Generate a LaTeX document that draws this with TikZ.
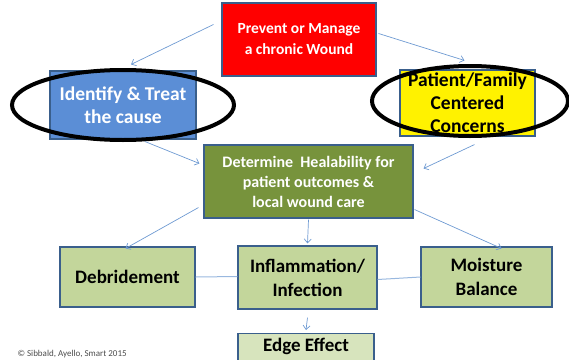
\documentclass[tikz,border=0pt]{standalone}
\usepackage{fontspec}
\setmainfont{Carlito}
\usetikzlibrary{arrows.meta}
\definecolor{boxline}{HTML}{3A5F8C}
\definecolor{flowblue}{HTML}{6E9AD2}
\definecolor{causeblue}{HTML}{5B8ED6}
\definecolor{healgreen}{HTML}{77933C}
\definecolor{stepgreen}{HTML}{C3D69B}
\definecolor{edgegreen}{HTML}{D7E4BD}
\tikzset{
  box/.style={draw=boxline, line width=1.1pt, align=center, inner sep=0pt},
  flow/.style={-{Straight Barb[length=4pt,width=7pt]}, draw=flowblue, line width=0.7pt},
  link/.style={draw=flowblue!70, line width=1pt},
  ring/.style={draw=black, line width=4pt}
}
\begin{document}
\begin{tikzpicture}[x=1pt,y=-1pt]
  \useasboundingbox (0,0) rectangle (569,359);
  % top
  \node[box, fill=red, text=white, minimum width=154pt, minimum height=73pt,
    font=\bfseries\fontsize{15.5}{21}\selectfont] (wound) at (299,39.5) {Prevent or Manage\\a chronic Wound};
  \node[box, fill=causeblue, text=white, minimum width=146pt, minimum height=68pt,
    font=\bfseries\fontsize{19.5}{23}\selectfont] (cause) at (123,105) {Identify \& Treat\\the cause};
  \node[box, fill=yellow, minimum width=135pt, minimum height=66pt,
    font=\bfseries\fontsize{19.5}{23}\selectfont] (family) at (467.5,103) {Patient/Family\\Centered\\Concerns};
  \draw[ring] (cause) ellipse [x radius=111pt, y radius=35pt];
  \draw[ring] (470,101) ellipse [x radius=98pt, y radius=35pt];
  % middle
  \node[box, fill=healgreen, text=white, minimum width=209pt, minimum height=73pt,
    font=\bfseries\fontsize{16}{20}\selectfont] (heal) at (308.5,181.5)
    {Determine\ \ Healability for\\patient outcomes \&\\local wound care};
  % bottom row
  \node[box, fill=stepgreen, minimum width=135pt, minimum height=60pt,
    font=\bfseries\fontsize{19}{24}\selectfont] (debride) at (127.5,277) {Debridement};
  \node[box, fill=stepgreen, minimum width=139pt, minimum height=63pt,
    font=\bfseries\fontsize{19}{24}\selectfont] (infect) at (307.5,277.5) {Inflammation/\\Infection};
  \node[box, fill=stepgreen, minimum width=131pt, minimum height=60pt,
    font=\bfseries\fontsize{19}{24}\selectfont] (moist) at (486.5,277) {Moisture\\Balance};
  \node[box, fill=edgegreen, minimum width=136pt, minimum height=40pt, anchor=north,
    font=\bfseries\fontsize{19}{24}\selectfont, text depth=17pt] (edge) at (306,333) {Edge Effect};
  \node[anchor=base west, font=\fontsize{9}{10}\selectfont, text=black!70] (credit) at (14,356)
    {\textcopyright\ Sibbald, Ayello, Smart 2015};
  % connectors
  \draw[flow] ([xshift=-8pt,yshift=15pt]wound.west) -- ([xshift=8pt,yshift=6pt]cause.north);
  \draw[flow] ([xshift=2pt,yshift=6pt]wound.east) -- ([xshift=-3pt,yshift=9pt]family.north);
  \draw[flow] ([xshift=22pt,yshift=-2pt]cause.south) -- ([xshift=-4pt,yshift=18pt]heal.west);
  \draw[flow] ([xshift=7pt,yshift=-8pt]family.south) -- ([xshift=10pt,yshift=13pt]heal.east);
  \draw[flow] ([xshift=-5pt,yshift=11pt]heal.south west) -- ([xshift=-2pt,yshift=-2pt]debride.north);
  \draw[flow] ([yshift=-1pt]heal.south) -- ([yshift=2pt]infect.north);
  \draw[flow] ([xshift=1pt,yshift=9pt]heal.south east) -- ([xshift=15pt,yshift=-2pt]moist.north);
  \draw[flow] ([yshift=-8pt]infect.south) -- ([yshift=3pt]edge.north);
  \draw[link] (debride.east) -- ([yshift=1pt]infect.west);
  \draw[link] ([yshift=-2pt]infect.east) -- (moist.east -| moist.west);
\end{tikzpicture}
\end{document}
